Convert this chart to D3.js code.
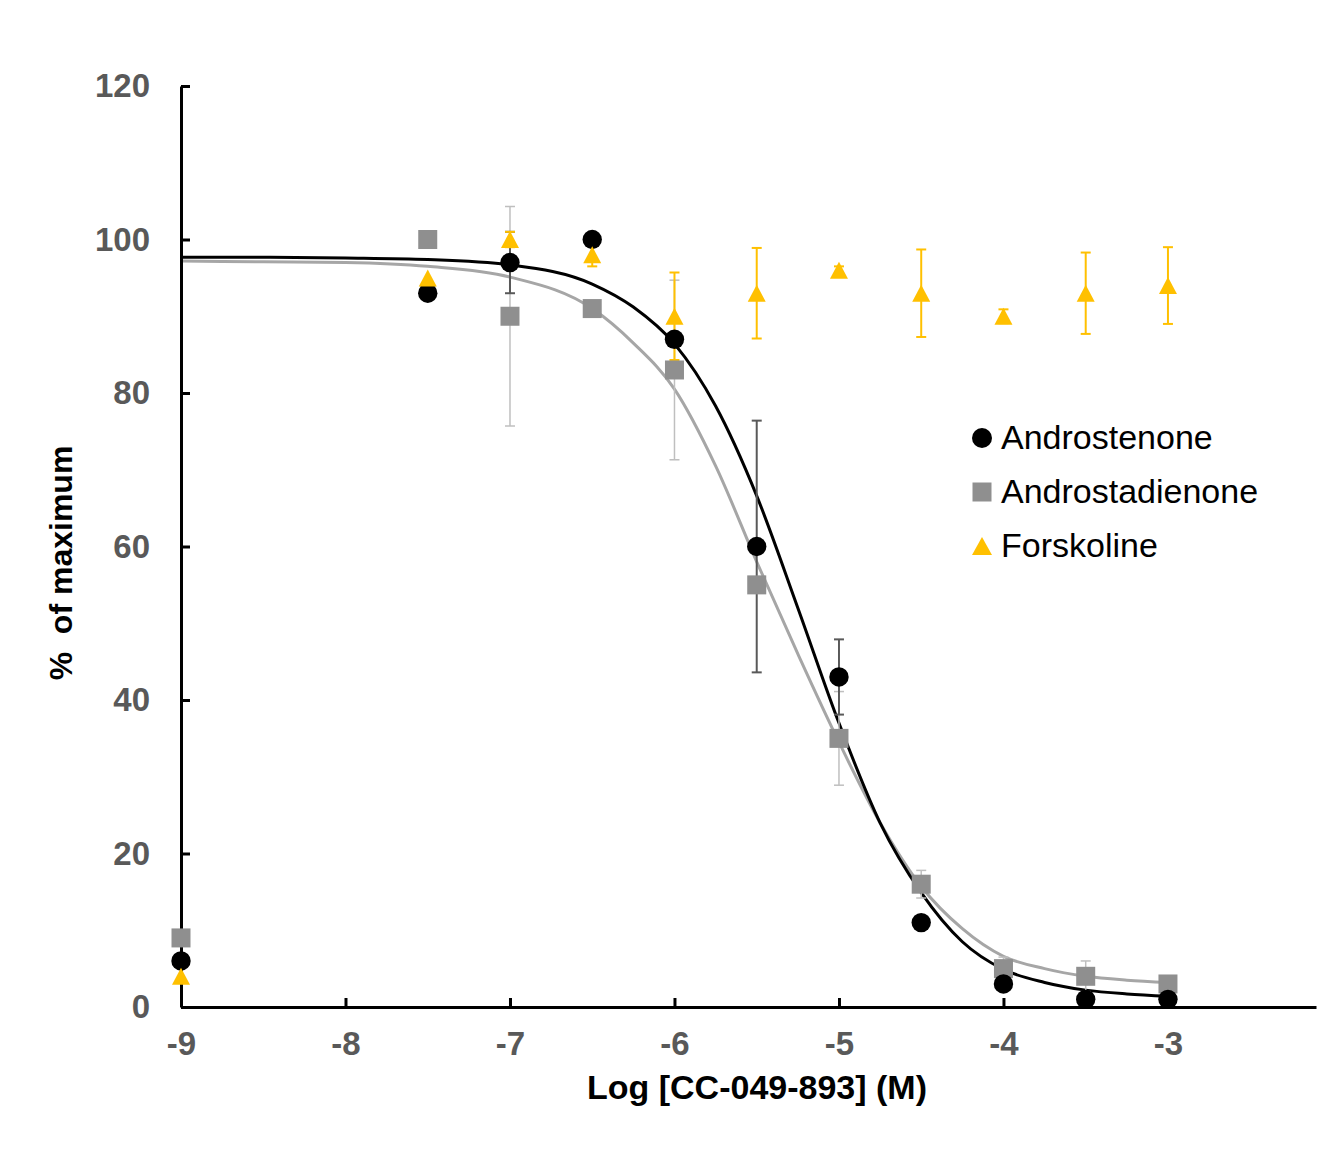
<!DOCTYPE html>
<html>
<head>
<meta charset="utf-8">
<script src="https://cdn.jsdelivr.net/npm/d3@7"></script>
<style>
  html, body { margin: 0; padding: 0; background: #fff; }
  svg { display: block; font-family: "Liberation Sans", Arial, sans-serif; }
</style>
</head>
<body>
<svg id="chart" width="1317" height="1151"></svg>
<script>
// ── Data ──
const logDose = [-9, -7.5, -7, -6.5, -6, -5.5, -5, -4.5, -4, -3.5, -3];

const androstenone    = [6, 93, 97, 100, 87, 60, 43, 11, 3, 1, 1];
const androstenoneErr = [0, 0, 4, 0, 0, 16.4, 4.9, 0, 0, 0, 0];

const androstadienone    = [9, 100, 90, 91, 83, 55, 35, 16, 5, 4, 3];
const androstadienoneErr = [0, 0, 14.3, 0, 11.7, 0, 6.1, 1.8, 1.5, 2, 1];

const forskoline    = [4, 95, 100, 98, 90, 93, 96, 93, 90, 93, 94];
const forskolineErr = [0, 0, 1, 1.5, 5.7, 5.9, 0.5, 5.7, 0.9, 5.3, 5];

// fitted curves
const curveX = [-9, -8.5, -8, -7.5, -7, -6.5, -6.25, -6, -5.75, -5.5, -5.25, -5,
                -4.75, -4.5, -4.25, -4, -3.75, -3.5, -3.25, -3];
const fitAndrostenone = [97.7, 97.7, 97.6, 97.4, 96.7, 94.2, 91.2, 86.4, 78.3, 66.6, 52, 37,
                         24, 14.9, 8.5, 4.9, 3.2, 2.2, 1.7, 1.4];
const fitAndrostadienone = [97.2, 97.1, 97.0, 96.5, 95.1, 91, 86.5, 80.5, 70.5, 58, 46, 34.5,
                            24, 15.7, 10.2, 6.6, 5, 4.0, 3.5, 3.2];

const xTicks = [-9, -8, -7, -6, -5, -4, -3];
const yTicks = [0, 20, 40, 60, 80, 100, 120];
const legendNames = ['Androstenone', 'Androstadienone', 'Forskoline'];

// ── Setup ──
const svg = d3.select('#chart');
const x = d3.scaleLinear().domain([-9, -2.1]).range([181, 1316]);
const y = d3.scaleLinear().domain([0, 120]).range([1007, 86]);

const YELLOW = '#ffc000';
const SQ_GRAY = '#8f8f8f';

// ── Fitted curves ──
const line = d3.line().x(d => x(d[0])).y(d => y(d[1])).curve(d3.curveMonotoneX);
svg.append('path')
  .datum(d3.zip(curveX, fitAndrostadienone))
  .attr('fill', 'none').attr('stroke', '#a6a6a6').attr('stroke-width', 3)
  .attr('d', line);
svg.append('path')
  .datum(d3.zip(curveX, fitAndrostenone))
  .attr('fill', 'none').attr('stroke', '#000').attr('stroke-width', 3)
  .attr('d', line);

// ── Axes ──
const yAxis = d3.axisLeft(y).tickValues(yTicks).tickSizeInner(-9).tickSizeOuter(0).tickPadding(31);
const xAxis = d3.axisBottom(x).tickValues(xTicks).tickSizeInner(-9).tickSizeOuter(0).tickPadding(25)
  .tickFormat(d => String(d));

const gy = svg.append('g').attr('transform', 'translate(181,0)').call(yAxis);
const gx = svg.append('g').attr('transform', 'translate(0,1007)').call(xAxis);

[gx, gy].forEach(g => {
  g.select('.domain').attr('stroke', '#000').attr('stroke-width', 3);
  g.selectAll('.tick line').attr('stroke', '#000').attr('stroke-width', 3);
  g.selectAll('.tick text')
    .attr('fill', '#595959')
    .style('font-size', '33px')
    .style('font-weight', 'bold')
    .style('font-family', '"Liberation Sans", Arial, sans-serif');
});

// ── Error bars ──
function errorBars(vals, errs, color, width) {
  const g = svg.append('g').attr('stroke', color).attr('stroke-width', width).attr('fill', 'none');
  logDose.forEach((d, i) => {
    const e = errs[i];
    if (!e) return;
    const cx = x(d), y0 = y(vals[i] - e), y1 = y(vals[i] + e);
    g.append('line').attr('x1', cx).attr('x2', cx).attr('y1', y0).attr('y2', y1);
    g.append('line').attr('x1', cx - 5).attr('x2', cx + 5).attr('y1', y0).attr('y2', y0);
    g.append('line').attr('x1', cx - 5).attr('x2', cx + 5).attr('y1', y1).attr('y2', y1);
  });
}
errorBars(androstadienone, androstadienoneErr, '#bfbfbf', 1.5);
errorBars(androstenone, androstenoneErr, '#595959', 2);
errorBars(forskoline, forskolineErr, YELLOW, 2);

// ── Markers ──
const tri = (w, h) => `M0,${-h / 2}L${w / 2},${h / 2}L${-w / 2},${h / 2}Z`;

svg.append('g').selectAll('rect')
  .data(d3.zip(logDose, androstadienone))
  .join('rect')
  .attr('x', d => x(d[0]) - 9.5).attr('y', d => y(d[1]) - 9.5)
  .attr('width', 19).attr('height', 19)
  .attr('fill', SQ_GRAY);

svg.append('g').selectAll('circle')
  .data(d3.zip(logDose, androstenone))
  .join('circle')
  .attr('cx', d => x(d[0])).attr('cy', d => y(d[1])).attr('r', 9.7)
  .attr('fill', '#000');

svg.append('g').selectAll('path')
  .data(d3.zip(logDose, forskoline))
  .join('path')
  .attr('transform', d => `translate(${x(d[0])},${y(d[1])})`)
  .attr('d', tri(18, 17))
  .attr('fill', YELLOW);

// ── Axis titles ──
svg.append('text')
  .attr('x', 757).attr('y', 1099)
  .attr('text-anchor', 'middle')
  .style('font-size', '34px').style('font-weight', 'bold')
  .attr('fill', '#000')
  .text('Log [CC-049-893] (M)');

svg.append('text')
  .attr('transform', 'translate(72,563) rotate(-90)')
  .attr('text-anchor', 'middle')
  .style('font-size', '32px').style('font-weight', 'bold')
  .attr('fill', '#000')
  .attr('xml:space', 'preserve')
  .text('%  of maximum');

// ── Legend ──
const leg = svg.append('g');
const legY = [438, 492, 546];
leg.append('circle').attr('cx', 982).attr('cy', legY[0]).attr('r', 10).attr('fill', '#000');
leg.append('rect').attr('x', 972.5).attr('y', legY[1] - 9.5).attr('width', 19).attr('height', 19).attr('fill', SQ_GRAY);
leg.append('path').attr('transform', `translate(982,${legY[2]})`).attr('d', tri(20, 18)).attr('fill', YELLOW);

leg.selectAll('text')
  .data(legendNames)
  .join('text')
  .attr('x', 1001)
  .attr('y', (d, i) => legY[i] + 11)
  .style('font-size', '34px')
  .attr('fill', '#000')
  .text(d => d);
</script>
</body>
</html>
